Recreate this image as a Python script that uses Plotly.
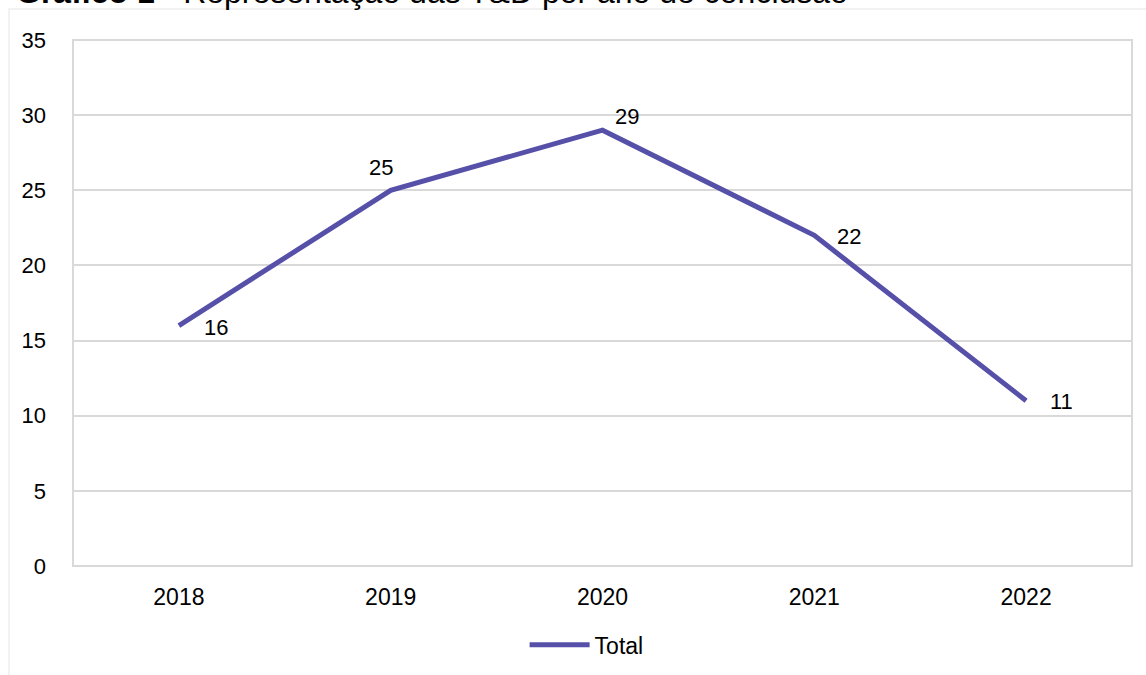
import plotly.graph_objects as go

years = ["2018", "2019", "2020", "2021", "2022"]
totals = [16, 25, 29, 22, 11]
y_ticks = [0, 5, 10, 15, 20, 25, 30, 35]

# label offsets in pixels (style only)
label_dx = [37, -10, 24, 35, 35]
label_dy = [-2, 23, 14, -1, -1]

LINE = "#5650A8"
FONT = "Liberation Sans, Arial, sans-serif"

fig = go.Figure()
fig.add_trace(go.Scatter(
    x=years, y=totals, mode="lines", name="Total",
    line=dict(color=LINE, width=5),
))

W, H = 1146, 675
L, R, T, B = 73, 14, 40, 109
pw, ph = W - L - R, H - T - B

annotations = [
    dict(x=i, y=yv, xref="x", yref="y", text=str(yv), showarrow=False,
         xshift=dx, yshift=dy, font=dict(size=22, family=FONT, color="#000000"))
    for i, (yv, dx, dy) in enumerate(zip(totals, label_dx, label_dy))
]
annotations.append(
    dict(xref="paper", yref="paper", x=(14 - L) / pw, xanchor="left",
         y=1 + (T - 12) / ph, yanchor="bottom",
         text="<b>Gráfico 1</b> - Representação das T&D por ano de conclusão",
         showarrow=False, font=dict(size=32, family=FONT, color="#000000"))
)

fig.update_layout(
    width=W, height=H,
    margin=dict(l=L, r=R, t=T, b=B, autoexpand=False),
    paper_bgcolor="white", plot_bgcolor="white",
    font=dict(family=FONT, size=22, color="#000000"),
    showlegend=True,
    legend=dict(orientation="h", x=0.485, xanchor="center", y=-0.150, yanchor="middle",
                font=dict(size=23), itemwidth=60),
    xaxis=dict(type="category", range=[-0.5, 4.5], showgrid=False, zeroline=False,
               showline=False, ticks="", tickfont=dict(size=23), ticklabelstandoff=15,
               automargin=False),
    yaxis=dict(range=[0, 35], tickvals=y_ticks, showgrid=True, gridcolor="#d9d9d9",
               gridwidth=1.5, zeroline=False, showline=False, ticks="",
               tickfont=dict(size=22), ticklabelstandoff=26, automargin=False),
    shapes=[
        dict(type="rect", xref="paper", yref="paper", x0=0, x1=1, y0=0, y1=1,
             line=dict(color="#d9d9d9", width=2), layer="below"),
        dict(type="rect", xref="paper", yref="paper",
             x0=(9 - L) / pw, x1=(W + 20 - L) / pw,
             y0=-(H + 20 - T - ph) / ph, y1=1 + (T - 9) / ph,
             line=dict(color="#eeeeee", width=1.5), layer="below"),
    ],
    annotations=annotations,
)

fig.write_html("out.html", config={"displayModeBar": False},
               post_script="document.body.style.margin='0';document.body.style.overflow='hidden';")
